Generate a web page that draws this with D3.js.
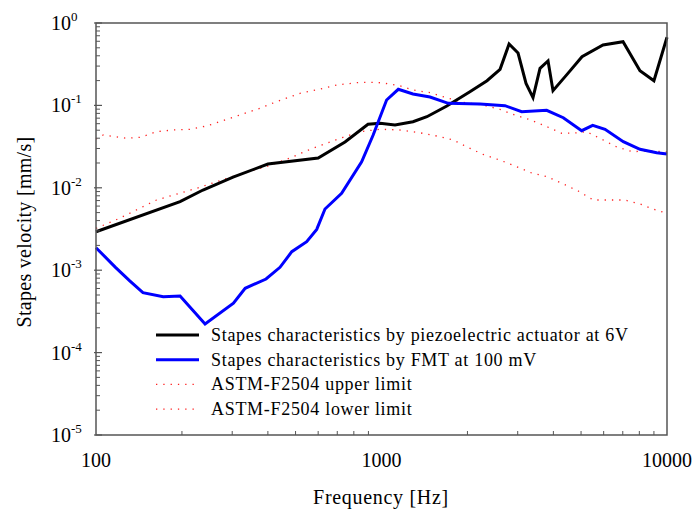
<!DOCTYPE html>
<html>
  <head>
    <meta charset="utf-8">
    <title>Stapes velocity</title>
    <script src="https://d3js.org/d3.v7.min.js"></script>
    <style>
      body { margin: 0; background: #fff; }
      text { font-family: "Liberation Serif", "Times New Roman", serif; fill: #000; }
    </style>
  </head>
  <body>
    <script>
        var width = 698;
        var height = 511;

        // data (Hz, mm/s)
        var piezoFreq = [100, 197, 237, 302, 400, 600, 745, 897, 988, 1115, 1289, 1442, 1694, 2040, 2342, 2602,
            2798, 3008, 3208, 3394, 3591, 3831, 3988, 4466, 5038, 5969, 7016, 8041, 8999, 10000];
        var piezoVel = [0.00293, 0.00678, 0.0094, 0.0135, 0.0194, 0.023, 0.036, 0.059, 0.0606, 0.0578, 0.0634, 0.0729, 0.0984, 0.1467, 0.1995, 0.274,
            0.556, 0.432, 0.185, 0.124, 0.282, 0.346, 0.151, 0.238, 0.390, 0.541, 0.593, 0.264, 0.1995, 0.671];

        var fmtFreq = [100, 117, 131, 146, 172, 197, 241, 303, 333, 394, 441, 485, 547, 593, 634, 725, 852, 935, 1042, 1145,
            1289, 1479, 1714, 2213, 2707, 3097, 3789, 4333, 5025, 5493, 6067, 7031, 8043, 9202, 10000];
        var fmtVel = [0.001875, 0.001084, 0.000746, 0.000533, 0.000477, 0.000486, 0.000222, 0.000397, 0.000603, 0.000782, 0.001084, 0.001677, 0.00222, 0.00313, 0.00553, 0.00857, 0.0207, 0.0437, 0.1163, 0.1568,
            0.1375, 0.1264, 0.106, 0.104, 0.0992, 0.0839, 0.0872, 0.0709, 0.0493, 0.0573, 0.0513, 0.0363, 0.0293, 0.0267, 0.0257];

        var upperFreq = [100, 106, 128, 143, 163, 186, 213, 244, 278, 319, 375, 429, 518, 609, 698, 842, 960, 1068, 1157, 1290,
            1480, 1689, 1927, 2262, 2595, 2925, 3338, 3796, 4281, 4887, 5226, 5815, 6646, 7574, 8651, 10000];
        var upperVel = [0.0391, 0.0437, 0.0399, 0.041, 0.048, 0.0503, 0.0513, 0.0562, 0.0652, 0.0765, 0.0922, 0.111, 0.140, 0.158, 0.177, 0.1906, 0.1906, 0.182, 0.1734, 0.1538,
            0.1426, 0.124, 0.109, 0.101, 0.0897, 0.0765, 0.0665, 0.0551, 0.0458, 0.0466, 0.048, 0.0399, 0.0315, 0.0274, 0.0282, 0.0272];

        var lowerFreq = [100, 121, 163, 225, 295, 407, 490, 562, 643, 734, 842, 989, 1157, 1360, 1563, 1785, 1985, 2262, 2595,
            2925, 3338, 3796, 4281, 4887, 5520, 6306, 7110, 8043, 8935, 10000];
        var lowerVel = [0.00322, 0.00427, 0.00711, 0.00986, 0.0134, 0.0187, 0.0238, 0.0293, 0.0347, 0.041, 0.048, 0.0513, 0.0503, 0.0466, 0.0425, 0.038, 0.0315, 0.0255, 0.0217,
            0.0185, 0.01525, 0.01364, 0.01135, 0.00914, 0.00711, 0.00711, 0.00711, 0.00636, 0.00553, 0.0049];

        var seriesNames = ["Stapes characteristics by piezoelectric actuator at 6V",
            "Stapes characteristics by FMT at 100 mV",
            "ASTM-F2504 upper limit",
            "ASTM-F2504 lower limit"];
        var xTickLabels = ["100", "1000", "10000"];
        var yTickExps = [0, -1, -2, -3, -4, -5];

        var svg = d3.select("body").append("svg")
            .attr("width", width)
            .attr("height", height)
        ;

        var x = d3.scaleLog().domain([100, 10000]).range([96, 667]);
        var y = d3.scaleLog().domain([1e-5, 1]).range([435, 23]);

        var series = [
            {name: seriesNames[0], f: piezoFreq, v: piezoVel, color: "#000", w: 3, dash: null},
            {name: seriesNames[1], f: fmtFreq, v: fmtVel, color: "#0000ff", w: 3, dash: null},
            {name: seriesNames[2], f: upperFreq, v: upperVel, color: "#ff2020", w: 1.3, dash: "1.3,6"},
            {name: seriesNames[3], f: lowerFreq, v: lowerVel, color: "#ff2020", w: 1.3, dash: "1.3,6"}
        ];

        var line = d3.line()
            .x(d => x(d[0]))
            .y(d => y(d[1]));

        // dotted limits first, then the solid curves on top
        [2, 3, 0, 1].forEach(i => {
            var s = series[i];
            svg.append("path")
                .datum(s.f.map((f, j) => [f, s.v[j]]))
                .attr("d", line)
                .attr("fill", "none")
                .attr("stroke", s.color)
                .attr("stroke-width", s.w)
                .attr("stroke-linejoin", "miter")
                .attr("stroke-dasharray", s.dash)
            ;
        });

        // frame
        var axisColor = "#555";
        svg.append("rect")
            .attr("x", 96).attr("y", 23)
            .attr("width", 571).attr("height", 412)
            .attr("fill", "none")
            .attr("stroke", axisColor)
            .attr("stroke-width", 1.5)
        ;

        // y ticks (inward)
        var yMinor = [];
        for (var e = -5; e < 0; e++) {
            for (var m = 2; m <= 9; m++) yMinor.push(m * Math.pow(10, e));
        }
        svg.selectAll("line.ymin").data(yMinor).enter().append("line")
            .attr("x1", 96).attr("x2", 100)
            .attr("y1", d => y(d)).attr("y2", d => y(d))
            .attr("stroke", axisColor).attr("stroke-width", 1)
        ;
        svg.selectAll("line.ymaj").data(yTickExps).enter().append("line")
            .attr("x1", 94).attr("x2", 102)
            .attr("y1", d => y(Math.pow(10, d))).attr("y2", d => y(Math.pow(10, d)))
            .attr("stroke", axisColor).attr("stroke-width", 1.2)
        ;
        var yl = svg.selectAll("text.ylab").data(yTickExps).enter().append("text")
            .attr("x", 51)
            .attr("y", d => y(Math.pow(10, d)) + 7)
            .style("font-size", "20px")
        ;
        yl.append("tspan").text("10");
        yl.append("tspan").attr("dy", -9).style("font-size", "13px").text(d => d === 0 ? "0" : d);

        // x ticks (inward)
        var xMinor = [];
        for (var e = 2; e < 4; e++) {
            for (var m = 2; m <= 9; m++) xMinor.push(m * Math.pow(10, e));
        }
        svg.selectAll("line.xmin").data(xMinor).enter().append("line")
            .attr("x1", d => x(d)).attr("x2", d => x(d))
            .attr("y1", 435).attr("y2", 431)
            .attr("stroke", axisColor).attr("stroke-width", 1)
        ;
        svg.selectAll("text.xlab").data(xTickLabels).enter().append("text")
            .attr("x", d => x(+d))
            .attr("y", 467)
            .attr("text-anchor", "middle")
            .style("font-size", "20px")
            .text(d => d)
        ;

        // axis titles
        svg.append("text")
            .attr("x", 381).attr("y", 504)
            .attr("text-anchor", "middle")
            .style("font-size", "20px")
            .style("letter-spacing", "0.7px")
            .text("Frequency [Hz]")
        ;
        svg.append("text")
            .attr("transform", "translate(31,232) rotate(-90)")
            .attr("text-anchor", "middle")
            .style("font-size", "20px")
            .style("letter-spacing", "0.3px")
            .text("Stapes velocity [mm/s]")
        ;

        // legend
        var lg = svg.selectAll("g.leg").data(series).enter().append("g")
            .attr("transform", (d, i) => "translate(156," + (335 + i * 24.7) + ")")
        ;
        lg.append("line")
            .attr("x1", 0).attr("x2", 43)
            .attr("stroke", d => d.color)
            .attr("stroke-width", d => d.w)
            .attr("stroke-dasharray", d => d.dash)
        ;
        lg.append("text")
            .attr("x", 55).attr("y", 6)
            .style("font-size", "18px")
            .style("letter-spacing", "0.7px")
            .text(d => d.name)
        ;
    </script>
  </body>
</html>
